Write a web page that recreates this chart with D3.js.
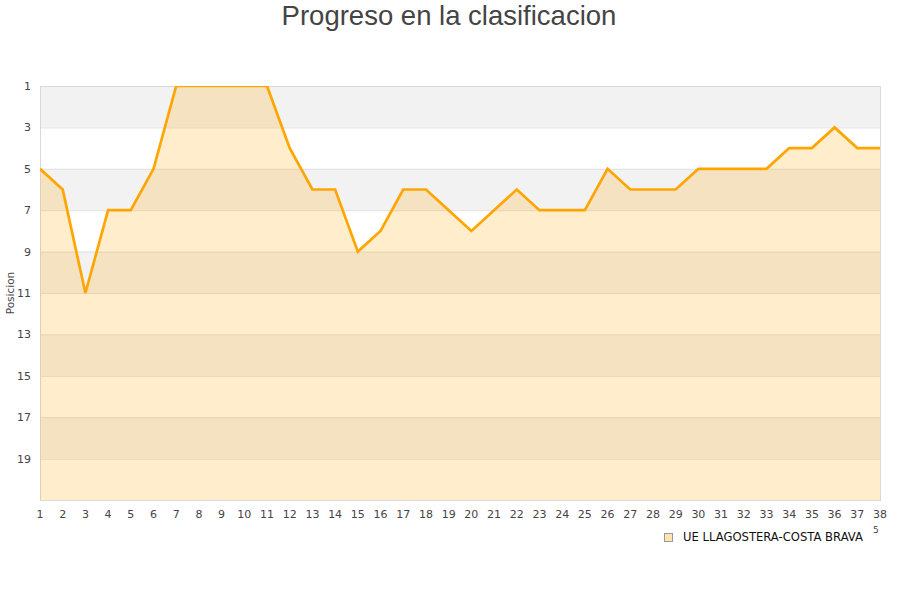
<!DOCTYPE html>
<html lang="es">
<head>
<meta charset="UTF-8">
<script src="https://d3js.org/d3.v7.min.js"></script>
<title>Progreso en la clasificacion</title>
<style>
  body { margin: 0; background: #fff; }
  text { font-family: "DejaVu Sans", sans-serif; }
</style>
</head>
<body>
<div id="chart"></div>
<script>
// jornadas y posicion del equipo
var jornadas = d3.range(1, 39);
var posiciones = [5, 6, 11, 7, 7, 5, 1, 1, 1, 1, 1, 4, 6, 6, 9, 8, 6, 6, 7, 8,
                  7, 6, 7, 7, 7, 5, 6, 6, 6, 5, 5, 5, 5, 4, 4, 3, 4, 4];
var yTicks = [1, 3, 5, 7, 9, 11, 13, 15, 17, 19];
var equipo = "UE LLAGOSTERA-COSTA BRAVA";

var W = 900, H = 600;
var m = { left: 40, right: 20, top: 86, bottom: 100 };

var svg = d3.select("#chart").append("svg")
    .attr("width", W).attr("height", H);

var x = d3.scaleLinear().domain([1, 38]).range([m.left, W - m.right]);
var y = d3.scaleLinear().domain([1, 21]).range([m.top, H - m.bottom]);

// titulo
svg.append("text")
    .attr("x", W / 2 - 1).attr("y", 25)
    .attr("text-anchor", "middle")
    .style("font-family", "'Liberation Sans', Arial, sans-serif")
    .style("font-size", "27.5px")
    .style("fill", "#444")
    .text("Progreso en la clasificacion");

// bandas alternas de fondo
var bandas = d3.range(1, 21, 2);
svg.selectAll("rect.band").data(bandas).enter().append("rect")
    .attr("x", x(1)).attr("width", x(38) - x(1))
    .attr("y", function (d) { return y(d); })
    .attr("height", function (d) { return y(d + 2) - y(d); })
    .style("fill", function (d, i) { return i % 2 === 0 ? "#f2f2f2" : "#ffffff"; });

// lineas de rejilla
svg.selectAll("line.grid").data(yTicks).enter().append("line")
    .attr("x1", x(1)).attr("x2", x(38))
    .attr("y1", function (d) { return y(d) + 0.5; })
    .attr("y2", function (d) { return y(d) + 0.5; })
    .style("stroke", "#e0e0e0");

// marco
svg.append("rect")
    .attr("x", x(1) + 0.5).attr("y", y(1) + 0.5)
    .attr("width", x(38) - x(1)).attr("height", y(21) - y(1))
    .style("fill", "none").style("stroke", "#d9d9d9");

svg.append("clipPath").attr("id", "clip").append("rect")
    .attr("x", x(1)).attr("y", y(1))
    .attr("width", x(38) - x(1)).attr("height", y(21) - y(1));

var datos = jornadas.map(function (j, i) { return { j: j, p: posiciones[i] }; });

var area = d3.area()
    .x(function (d) { return x(d.j); })
    .y0(y(21))
    .y1(function (d) { return y(d.p); });

var linea = d3.line()
    .x(function (d) { return x(d.j); })
    .y(function (d) { return y(d.p); });

var g = svg.append("g").attr("clip-path", "url(#clip)");
g.append("path").datum(datos).attr("d", area)
    .style("fill", "rgba(255,165,0,0.2)");
g.append("path").datum(datos).attr("d", linea)
    .style("fill", "none").style("stroke", "#ffa500")
    .style("stroke-width", 2.7).style("stroke-linejoin", "miter");

// etiquetas de ejes
svg.selectAll("text.ytick").data(yTicks).enter().append("text")
    .attr("x", 31).attr("y", function (d) { return y(d) + 4; })
    .attr("text-anchor", "end")
    .style("font-size", "11px").style("fill", "#444")
    .text(function (d) { return d; });

svg.selectAll("text.xtick").data(jornadas).enter().append("text")
    .attr("x", function (d) { return x(d); }).attr("y", 518)
    .attr("text-anchor", "middle")
    .style("font-size", "11px").style("fill", "#444")
    .text(function (d) { return d; });

svg.append("text")
    .attr("transform", "translate(14,293) rotate(-90)")
    .attr("text-anchor", "middle")
    .style("font-size", "10.5px").style("fill", "#444")
    .text("Posicion");

// leyenda
svg.append("rect")
    .attr("x", 664.5).attr("y", 533.5).attr("width", 8).attr("height", 8)
    .style("fill", "#ffe4b5").style("stroke", "#999");
svg.append("text")
    .attr("x", 683).attr("y", 541)
    .style("font-size", "11.6px").style("fill", "#111")
    .text(equipo);
svg.append("text")
    .attr("x", 873).attr("y", 533)
    .style("font-size", "9px").style("fill", "#444")
    .text("5");
</script>
</body>
</html>
